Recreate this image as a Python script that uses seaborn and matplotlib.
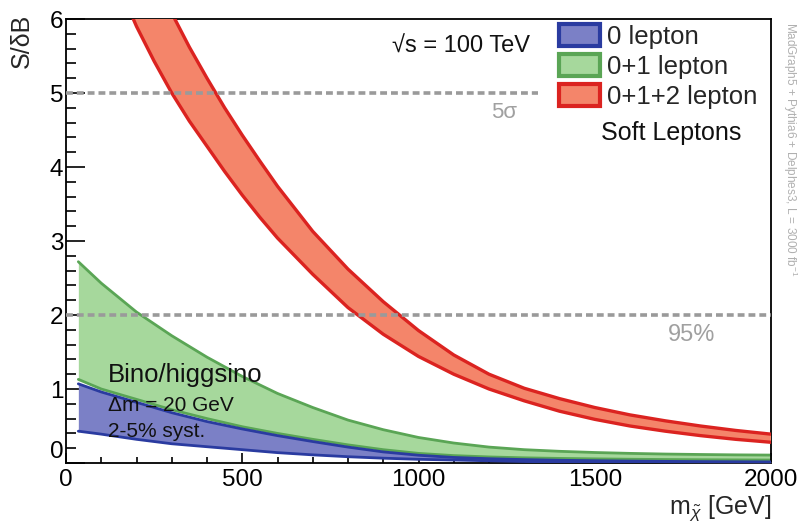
import numpy as np
import pandas as pd
import matplotlib
matplotlib.use("Agg")
import matplotlib.pyplot as plt
from matplotlib.patches import Patch
from matplotlib.ticker import MultipleLocator
import seaborn as sns

# ---------------- data ----------------
mass_gb = [35, 100, 200, 300, 400, 500, 600, 700, 800, 900, 1000, 1100, 1200,
           1300, 1400, 1500, 1600, 1700, 1800, 1900, 2000]
green_hi = [2.72, 2.43, 2.04, 1.72, 1.43, 1.17, 0.94, 0.75, 0.58, 0.45, 0.345,
            0.27, 0.215, 0.18, 0.158, 0.142, 0.13, 0.121, 0.115, 0.11, 0.107]
green_lo = [1.13, 1.00, 0.86, 0.72, 0.60, 0.49, 0.40, 0.32, 0.245, 0.18, 0.13,
            0.10, 0.082, 0.07, 0.062, 0.056, 0.051, 0.047, 0.044, 0.042, 0.04]
blue_hi = [1.07, 0.96, 0.82, 0.68, 0.56, 0.46, 0.37, 0.29, 0.215, 0.15, 0.105,
           0.075, 0.058, 0.046, 0.037, 0.031, 0.026, 0.022, 0.019, 0.017, 0.015]
blue_lo = [0.43, 0.39, 0.32, 0.26, 0.22, 0.18, 0.14, 0.11, 0.085, 0.065, 0.05,
           0.04, 0.03, 0.02, 0.015, 0.01, 0.008, 0.006, 0.005, 0.004, 0.003]

mass_red = [150, 200, 250, 300, 350, 400, 450, 500, 550, 600, 700, 800, 900,
            1000, 1100, 1200, 1300, 1400, 1500, 1600, 1700, 1800, 1900, 2000]
red_hi = [7.70, 7.10, 6.57, 6.08, 5.62, 5.20, 4.80, 4.43, 4.08, 3.74, 3.13,
          2.62, 2.18, 1.79, 1.46, 1.20, 1.01, 0.87, 0.75, 0.65, 0.57, 0.50,
          0.44, 0.39]
red_lo = [6.45, 5.90, 5.43, 5.00, 4.62, 4.28, 3.94, 3.62, 3.32, 3.04, 2.55,
          2.10, 1.74, 1.44, 1.20, 1.00, 0.84, 0.70, 0.59, 0.50, 0.43, 0.37,
          0.32, 0.28]

labels = ["0 lepton", "0+1 lepton", "0+1+2 lepton"]
x_ticks = [0, 500, 1000, 1500, 2000]
y_ticks = [0, 1, 2, 3, 4, 5, 6]

# ---------------- style ----------------
sns.set_style("ticks")
plt.rcParams["font.family"] = ["Liberation Sans", "DejaVu Sans"]
plt.rcParams["mathtext.fontset"] = "custom"
plt.rcParams["mathtext.rm"] = "Liberation Sans"
plt.rcParams["mathtext.it"] = "Liberation Sans:italic"

fill_cols = {"blue": "#7b80c6", "green": "#a6d89c", "red": "#f4856a"}
edge_cols = {"blue": "#2a3ba0", "green": "#5aa555", "red": "#db2320"}
gray = "#a0a0a0"

fig = plt.figure(figsize=(8.01, 5.29), dpi=100)
ax = fig.add_axes([66 / 801, 1 - 463 / 529, (771 - 66) / 801, (463 - 19) / 529])

df_gb = pd.DataFrame({"m": mass_gb, "g_hi": green_hi, "g_lo": green_lo,
                      "b_hi": blue_hi, "b_lo": blue_lo})
df_r = pd.DataFrame({"m": mass_red, "r_hi": red_hi, "r_lo": red_lo})

# bands
ax.fill_between(df_gb["m"], df_gb["g_lo"], df_gb["g_hi"], color=fill_cols["green"], lw=0, zorder=2)
ax.fill_between(df_gb["m"], df_gb["b_lo"], df_gb["b_hi"], color=fill_cols["blue"], lw=0, zorder=3)
ax.fill_between(df_r["m"], df_r["r_lo"], df_r["r_hi"], color=fill_cols["red"], lw=0, zorder=4)

for col in ["g_hi", "g_lo"]:
    sns.lineplot(data=df_gb, x="m", y=col, color=edge_cols["green"], lw=2.0, ax=ax, zorder=2.5)
for col in ["b_hi", "b_lo"]:
    sns.lineplot(data=df_gb, x="m", y=col, color=edge_cols["blue"], lw=2.0, ax=ax, zorder=3.5)
for col in ["r_hi", "r_lo"]:
    sns.lineplot(data=df_r, x="m", y=col, color=edge_cols["red"], lw=2.4, ax=ax, zorder=4.5)

# reference lines
ax.plot([0, 1340], [5, 5], color="#9a9a9a", lw=2.6, ls=(0, (1.9, 1.1)), zorder=5)
ax.plot([0, 2000], [2, 2], color="#9a9a9a", lw=2.6, ls=(0, (1.9, 1.1)), zorder=5)

ax.set_xlim(0, 2000)
ax.set_ylim(0, 6)
ax.set_xticks(x_ticks)
ax.set_yticks(y_ticks)
ax.xaxis.set_minor_locator(MultipleLocator(100))
ax.yaxis.set_minor_locator(MultipleLocator(0.2))
ax.set_xlabel("")
ax.set_ylabel("")
for s in ax.spines.values():
    s.set_linewidth(1.3)
    s.set_color("black")
    s.set_visible(True)
ax.tick_params(axis="both", which="both", direction="in", colors="black",
               labelsize=17.5, width=1.2)
ax.tick_params(axis="y", which="major", length=14, pad=2)
ax.tick_params(axis="y", which="minor", length=7.5)
ax.tick_params(axis="x", which="major", length=7.5, pad=4)
ax.tick_params(axis="x", which="minor", length=4.5)
fig.canvas.draw()
ax.get_yticklabels()[0].set_verticalalignment("bottom")

# texts
ax.text(1120, 5.62, "√s = 100 TeV", fontsize=17, ha="center", va="center", color="#111111")
ax.text(1243, 4.73, "5σ", fontsize=16, ha="center", va="center", color=gray)
ax.text(1776, 1.73, "95%", fontsize=17, ha="center", va="center", color=gray)
ax.text(1716, 4.46, "Soft Leptons", fontsize=18, ha="center", va="center", color="#111111")
ax.text(119, 1.19, "Bino/higgsino", fontsize=18.5, ha="left", va="center", color="#111111", zorder=6)
ax.text(119, 0.78, "Δm = 20 GeV", fontsize=15, ha="left", va="center", color="#111111", zorder=6)
ax.text(119, 0.42, "2-5% syst.", fontsize=15, ha="left", va="center", color="#111111", zorder=6)

fig.text(22 / 801, 1 - 41 / 529, "S/δB", rotation=90, fontsize=18, ha="center", va="center")
fig.text(771 / 801, 1 - 508 / 529, r"m$_{\tilde{\chi}}$ [GeV]", fontsize=18, ha="right", va="center")
fig.text(790 / 801, 1 - 22 / 529, r"MadGraph5 + Pythia6 + Delphes3, L = 3000 fb$^{-1}$",
         rotation=270, fontsize=8.5, ha="center", va="top", color="#b0b0b0")

handles = [Patch(facecolor=fill_cols[k], edgecolor=edge_cols[k], lw=3) for k in ["blue", "green", "red"]]
leg = ax.legend(handles, labels, loc="upper left", bbox_to_anchor=(559 / 801, 1 - 24 / 529),
                bbox_transform=fig.transFigure, frameon=False, fontsize=18.5,
                handlelength=1.6, handleheight=0.95, handletextpad=0.25,
                labelspacing=0.2, borderpad=0, borderaxespad=0)

fig.savefig("out.png", dpi=100)
